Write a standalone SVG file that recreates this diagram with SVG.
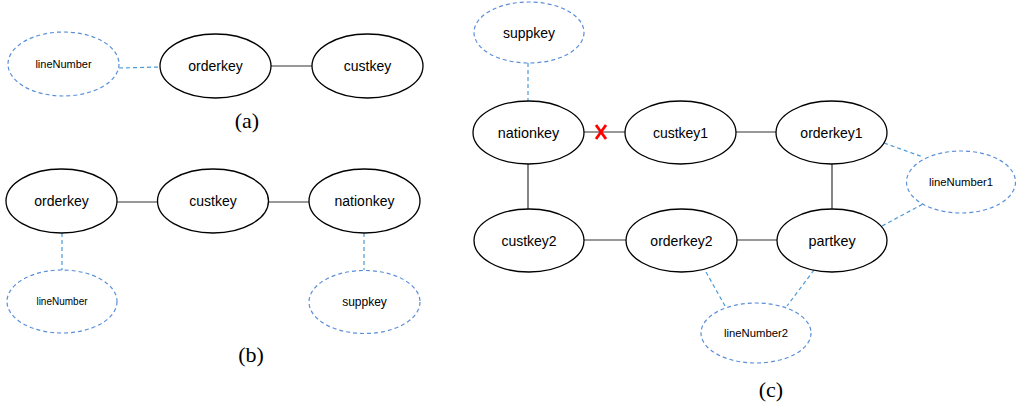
<svg xmlns="http://www.w3.org/2000/svg" width="1020" height="408" viewBox="0 0 1020 408">
<style>
.n{fill:#fff;stroke:#000;stroke-width:1.3}
.d{fill:#fff;stroke:#5b8fd8;stroke-width:1.2;stroke-dasharray:4 3}
.e{stroke:#333;stroke-width:1.2;fill:none}
.de{stroke:#4a9ad8;stroke-width:1.2;stroke-dasharray:4 3;fill:none}
text{font-family:"Liberation Sans",Arial,sans-serif;text-anchor:middle;dominant-baseline:central;fill:#000}
.cap{font-family:"Liberation Serif","Times New Roman",serif;font-size:22px;dominant-baseline:auto}
</style>
<rect width="1020" height="408" fill="#fff"/>
<g id="connectors">
<line class="de" x1="119" y1="68" x2="160" y2="67"/>
<line class="e" x1="271" y1="66" x2="312" y2="66"/>
<line class="e" x1="117" y1="202" x2="157" y2="202"/>
<line class="e" x1="268" y1="202" x2="309" y2="202"/>
<line class="de" x1="62" y1="233" x2="62" y2="270"/>
<line class="de" x1="364" y1="233" x2="364" y2="270"/>
<line class="de" x1="528" y1="63" x2="528" y2="101"/>
<line class="e" x1="584" y1="132" x2="625" y2="132"/>
<line class="e" x1="736" y1="132" x2="776" y2="132"/>
<line class="e" x1="528" y1="164" x2="528" y2="209"/>
<line class="e" x1="832" y1="164" x2="832" y2="209"/>
<line class="e" x1="584" y1="240" x2="626" y2="240"/>
<line class="e" x1="737" y1="240" x2="777" y2="240"/>
<line class="de" x1="884" y1="143" x2="923" y2="157"/>
<line class="de" x1="882" y1="226" x2="923" y2="204"/>
<line class="de" x1="706" y1="272" x2="725" y2="306"/>
<line class="de" x1="814" y1="270" x2="787" y2="306"/>
<g id="cut" stroke="#ff0000" stroke-width="2.8" stroke-linecap="butt">
<line x1="596" y1="125" x2="606" y2="139"/>
<line x1="606" y1="125" x2="596" y2="139"/>
</g>
</g>
<g id="a_lineNumber"><ellipse class="d" cx="63.5" cy="64" rx="55.5" ry="32"/><text x="63.5" y="64" font-size="11">lineNumber</text></g>
<g id="a_orderkey"><ellipse class="n" cx="215.5" cy="66" rx="55.5" ry="32"/><text x="215.5" y="66" font-size="14">orderkey</text></g>
<g id="a_custkey"><ellipse class="n" cx="367.5" cy="66" rx="55.5" ry="32"/><text x="367.5" y="66" font-size="14">custkey</text></g>
<text class="cap" x="247" y="128">(a)</text>
<g id="b_orderkey"><ellipse class="n" cx="61.5" cy="201" rx="55.5" ry="32"/><text x="61.5" y="201" font-size="14">orderkey</text></g>
<g id="b_custkey"><ellipse class="n" cx="213" cy="201" rx="55.5" ry="32"/><text x="213" y="201" font-size="14">custkey</text></g>
<g id="b_nationkey"><ellipse class="n" cx="364.5" cy="201" rx="55.5" ry="32"/><text x="364.5" y="201" font-size="14">nationkey</text></g>
<g id="b_lineNumber"><ellipse class="d" cx="62" cy="301.5" rx="55" ry="31.5"/><text x="62" y="301.5" font-size="10">lineNumber</text></g>
<g id="b_suppkey"><ellipse class="d" cx="364.5" cy="302" rx="55.5" ry="31.5"/><text x="364.5" y="302" font-size="12">suppkey</text></g>
<text class="cap" x="251" y="362">(b)</text>
<g id="c_suppkey"><ellipse class="d" cx="529" cy="32.5" rx="55" ry="30.5"/><text x="529" y="33" font-size="14">suppkey</text></g>
<g id="c_nationkey"><ellipse class="n" cx="528.5" cy="132.5" rx="55.5" ry="31.5"/><text x="528.5" y="132.5" font-size="14.4">nationkey</text></g>
<g id="c_custkey1"><ellipse class="n" cx="680.5" cy="132.5" rx="55.5" ry="31.5"/><text x="680.5" y="132.5" font-size="14">custkey1</text></g>
<g id="c_orderkey1"><ellipse class="n" cx="831.5" cy="132.5" rx="55.5" ry="31.5"/><text x="831.5" y="132.5" font-size="14">orderkey1</text></g>
<g id="c_custkey2"><ellipse class="n" cx="529" cy="240.5" rx="55" ry="31.5"/><text x="529" y="240.5" font-size="14">custkey2</text></g>
<g id="c_orderkey2"><ellipse class="n" cx="681.5" cy="240.5" rx="55.5" ry="31.5"/><text x="681.5" y="240.5" font-size="14">orderkey2</text></g>
<g id="c_partkey"><ellipse class="n" cx="832" cy="240.5" rx="55" ry="31.5"/><text x="832" y="240.5" font-size="14.4">partkey</text></g>
<g id="c_lineNumber1"><ellipse class="d" cx="961" cy="182" rx="54.5" ry="31"/><text x="961" y="182" font-size="11.3">lineNumber1</text></g>
<g id="c_lineNumber2"><ellipse class="d" cx="756" cy="333" rx="55" ry="30"/><text x="756" y="333" font-size="11.3">lineNumber2</text></g>
<text class="cap" x="771" y="397">(c)</text>
</svg>
